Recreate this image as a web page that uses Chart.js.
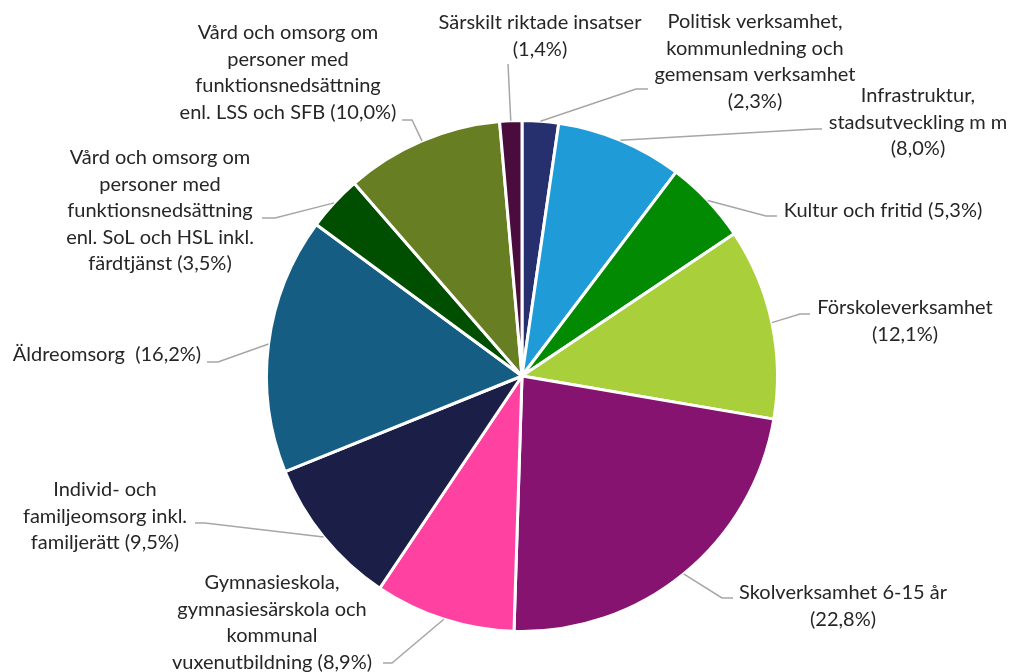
<!DOCTYPE html>
<html>
<head>
<meta charset="utf-8">
<script src="https://cdn.jsdelivr.net/npm/chart.js@4"></script>
<style>
  html, body { margin: 0; padding: 0; background: #fff; }
  #wrap { width: 1013px; height: 672px; position: relative; }
</style>
</head>
<body>
<div id="wrap"><canvas id="pie"></canvas></div>
<script>
// data, clockwise from 12 o'clock
const categories = [
  'Politisk verksamhet, kommunledning och gemensam verksamhet',
  'Infrastruktur, stadsutveckling m m',
  'Kultur och fritid',
  'Förskoleverksamhet',
  'Skolverksamhet 6-15 år',
  'Gymnasieskola, gymnasiesärskola och kommunal vuxenutbildning',
  'Individ- och familjeomsorg inkl. familjerätt',
  'Äldreomsorg',
  'Vård och omsorg om personer med funktionsnedsättning enl. SoL och HSL inkl. färdtjänst',
  'Vård och omsorg om personer med funktionsnedsättning enl. LSS och SFB',
  'Särskilt riktade insatser'
];
const shares = [2.3, 8.0, 5.3, 12.1, 22.8, 8.9, 9.5, 16.2, 3.5, 10.0, 1.4];
const colors = ['#27306F', '#1F9BD8', '#038A03', '#A9D03B', '#85136F', '#FF41A1',
                '#1B1F47', '#155D83', '#004F00', '#687E22', '#4A0C3D'];

// label text as it is broken into lines in the picture
const labelLines = [
  ['Politisk verksamhet,', 'kommunledning och', 'gemensam verksamhet', '(2,3%)'],
  ['Infrastruktur,', 'stadsutveckling m m', '(8,0%)'],
  ['Kultur och fritid (5,3%)'],
  ['Förskoleverksamhet', '(12,1%)'],
  ['Skolverksamhet 6-15 år', '(22,8%)'],
  ['Gymnasieskola,', 'gymnasiesärskola och', 'kommunal', 'vuxenutbildning (8,9%)'],
  ['Individ- och', 'familjeomsorg inkl.', 'familjerätt (9,5%)'],
  ['Äldreomsorg  (16,2%)'],
  ['Vård och omsorg om', 'personer med', 'funktionsnedsättning', 'enl. SoL och HSL inkl.', 'färdtjänst (3,5%)'],
  ['Vård och omsorg om', 'personer med', 'funktionsnedsättning', 'enl. LSS och SFB (10,0%)'],
  ['Särskilt riktade insatser', '(1,4%)']
];

// label placement: text centre x, first line middle y, leader elbow x/y, leader end x
const labelPlace = [
  { x: 755, y: 22,  ex: 636, ey: 89,  endX: 648 },
  { x: 918, y: 96,  ex: 815, ey: 129, endX: 822 },
  { x: 883, y: 211, ex: 766, ey: 216, endX: 777 },
  { x: 905, y: 308, ex: 800, ey: 314, endX: 810 },
  { x: 843, y: 593, ex: 722, ey: 598, endX: 733 },
  { x: 272, y: 583, ex: 392, ey: 663, endX: 383 },
  { x: 105, y: 490, ex: 205, ey: 523, endX: 195 },
  { x: 107, y: 355, ex: 218, ey: 362, endX: 207 },
  { x: 160, y: 158, ex: 275, ey: 218, endX: 262 },
  { x: 288, y: 33,  ex: 412, ey: 120, endX: 402 },
  { x: 540, y: 23,  ex: 508, ey: 64,  endX: 508 }
];

const lineHeight = 26.5;

const outsideLabels = {
  id: 'outsideLabels',
  afterDraw(chart) {
    const ctx = chart.ctx;
    const meta = chart.getDatasetMeta(0);
    ctx.save();
    meta.data.forEach((arc, i) => {
      const p = labelPlace[i];
      const mid = (arc.startAngle + arc.endAngle) / 2;
      const ax = arc.x + Math.cos(mid) * arc.outerRadius;
      const ay = arc.y + Math.sin(mid) * arc.outerRadius;
      ctx.strokeStyle = '#A6A6A6';
      ctx.lineWidth = 1.5;
      ctx.beginPath();
      ctx.moveTo(ax, ay);
      ctx.lineTo(p.ex, p.ey);
      ctx.lineTo(p.endX, p.ey);
      ctx.stroke();

      ctx.fillStyle = '#262626';
      ctx.font = '20px Lato';
      ctx.textAlign = 'center';
      ctx.textBaseline = 'middle';
      labelLines[i].forEach((t, k) => {
        ctx.fillText(t, p.x, p.y + k * lineHeight);
      });
    });
    ctx.restore();
  }
};

new Chart(document.getElementById('pie'), {
  type: 'pie',
  data: {
    labels: categories,
    datasets: [{
      data: shares,
      backgroundColor: colors,
      borderColor: '#ffffff',
      borderWidth: 3
    }]
  },
  options: {
    responsive: true,
    maintainAspectRatio: false,
    animation: false,
    layout: { padding: { top: 119, bottom: 39, left: 265, right: 234 } },
    plugins: {
      legend: { display: false },
      tooltip: { enabled: false }
    }
  },
  plugins: [outsideLabels]
});
</script>
</body>
</html>
